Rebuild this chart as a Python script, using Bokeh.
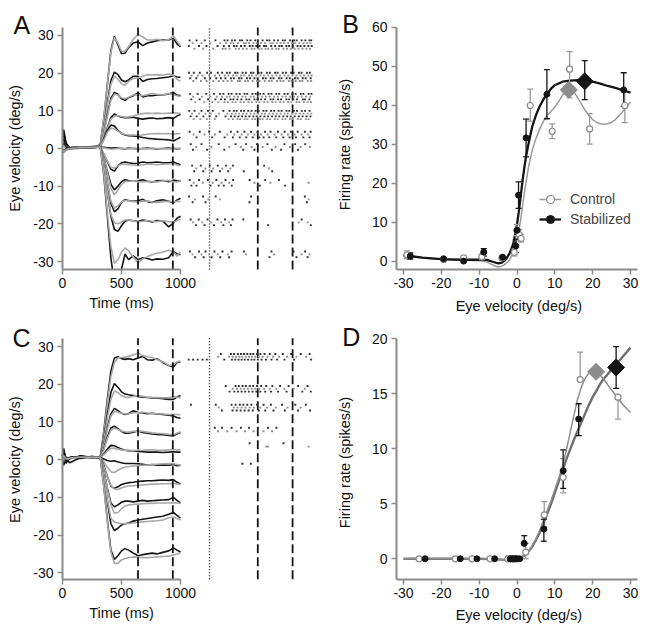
import math
import numpy as np
from bokeh.plotting import figure
from bokeh.models import Range1d, Label, Legend, LegendItem, FixedTicker, LinearAxis
from bokeh.layouts import column, row
from bokeh.embed import file_html
from bokeh.resources import INLINE

FONT = "Liberation Sans"
BLACK = "#151515"
GRAY = "#a8a8a8"
AXIS = "#8a8a8a"
TICK_FONT = "14px"
TITLE_FONT = "14.5px"

# ---------------- Panel A / C : eye velocity traces ----------------
T = [0, 10, 30, 60, 150, 250, 320, 350, 380, 410, 440, 470, 500, 530, 560,
     600, 640, 680, 720, 760, 800, 850, 900, 940, 970, 1000]

A_black = [
    [4, 5, 1.5, 0.2, 0.3, 0.4, 0.9, 8, 17, 26, 29.8, 27.5, 25.2, 25.3, 26.8, 28.0, 28.3, 27.3, 28.0, 28.3, 28.6, 28.8, 28.8, 29.3, 27.8, 27.0],
    [4, 4.5, 1, 0.2, 0.3, 0.4, 0.8, 5.5, 12, 18, 20.3, 19.6, 18.2, 17.7, 18.2, 19.2, 19.2, 17.8, 18.3, 18.5, 18.6, 18.8, 19.0, 19.3, 19.0, 18.9],
    [3.5, 4, 1, 0.2, 0.3, 0.4, 0.7, 4, 9, 13.3, 14.9, 14.4, 13.2, 12.8, 13.5, 14.0, 14.8, 13.7, 14.0, 14.0, 14.2, 14.2, 14.5, 14.8, 14.2, 14.0],
    [3, 3.5, 0.8, 0.2, 0.3, 0.4, 0.6, 2.5, 5.5, 8.2, 9.2, 8.6, 8.3, 8.2, 8.2, 8.3, 8.0, 7.8, 8.0, 8.1, 7.9, 8.0, 8.2, 8.0, 8.6, 9.0],
    [2, 2.5, 0.5, 0.2, 0.3, 0.4, 0.6, 2.5, 4.8, 6.2, 6.0, 4.8, 4.0, 3.6, 3.4, 3.3, 3.2, 2.9, 2.7, 2.6, 2.5, 2.4, 2.3, 2.0, 2.5, 3.0],
    [1.0, 1.5, 0.2, 0.1, 0.2, 0.3, 0.4, 0.3, 0.2, 0.1, 0.2, 0.1, 0.0, -0.1, 0.1, 0.0, -0.1, 0.0, 0.1, 0.0, -0.1, 0.0, 0.1, 0.0, -0.1, 0.0],
    [-0.3, -0.5, -0.2, 0.1, 0.2, 0.3, 0.4, -1.5, -3.5, -5.5, -6.0, -4.6, -3.8, -3.6, -3.8, -4.0, -3.9, -3.6, -3.8, -3.7, -3.6, -3.8, -3.8, -3.6, -4.0, -4.3],
    [-0.5, -0.8, -0.3, 0.0, 0.2, 0.3, 0.4, -2.5, -6, -9.5, -11, -10, -8.8, -8.3, -8.5, -8.7, -8.6, -8.3, -8.7, -8.9, -8.6, -8.5, -8.8, -8.4, -8.6, -8.7],
    [-0.6, -0.9, -0.2, 0.1, 0.2, 0.2, 0.4, -3.5, -9, -14.5, -16.8, -16, -14.3, -13.6, -13.8, -14.0, -13.9, -13.5, -14.1, -14.3, -13.9, -13.6, -14.0, -14.4, -13.7, -13.2],
    [-0.4, -0.7, -0.3, 0.0, 0.1, 0.3, 0.5, -4.5, -11.5, -18, -21.5, -22, -20.5, -19.3, -19.0, -19.2, -19.4, -19.0, -19.2, -19.5, -19.1, -19.3, -20.8, -19.8, -18.5, -18.0],
    [-0.5, -0.8, -0.2, 0.1, 0.2, 0.3, 0.4, -7, -18, -29, -36, -36, -32, -28, -29.5, -28.5, -29.5, -29.0, -29.2, -29.6, -29.3, -29.4, -29.0, -27.3, -28.0, -28.2],
]
A_gray = [
    [2, 3, 0.5, 0.2, 0.3, 0.5, 0.9, 8, 17, 25.5, 29.5, 28, 25.8, 25.8, 27, 29, 30.3, 29.6, 28.8, 28.8, 29, 28.6, 28.9, 29.8, 28.5, 27.3],
    [1.5, 2.5, 0.5, 0.2, 0.3, 0.5, 0.8, 5.5, 11.5, 17, 19.2, 18.4, 17.2, 16.8, 17.8, 18.6, 18.8, 19.2, 19.6, 19.5, 19.6, 19.5, 19.8, 19.4, 18.4, 17.8],
    [1.5, 2, 0.5, 0.2, 0.3, 0.5, 0.7, 4, 8.5, 12.8, 14.4, 14.2, 13.5, 13.2, 13.6, 14.2, 14.3, 14.0, 14.3, 14.6, 14.4, 14.2, 14.6, 14.3, 14.0, 13.8],
    [1.5, 2, 0.5, 0.2, 0.3, 0.5, 0.6, 2.5, 5.3, 7.8, 8.6, 8.7, 8.5, 8.3, 8.4, 8.6, 9.0, 9.3, 9.4, 9.3, 9.4, 9.3, 9.4, 9.5, 9.4, 9.3],
    [1, 1.5, 0.3, 0.2, 0.3, 0.4, 0.6, 2.2, 4.3, 5.4, 5.2, 4.6, 4.0, 3.7, 3.6, 3.6, 3.5, 3.6, 3.8, 3.9, 4.0, 3.9, 4.0, 3.8, 3.9, 4.0],
    [0.5, 0.8, -0.3, -0.2, 0.1, 0.2, 0.3, 0.2, 0.0, -0.2, -0.1, 0.0, 0.1, -0.1, 0.0, 0.1, 0.0, -0.1, 0.0, 0.1, 0.0, -0.1, 0.0, 0.1, 0.0, -0.1],
    [-0.5, -0.8, -0.3, 0.0, 0.2, 0.3, 0.4, -1.5, -3.3, -5.0, -5.2, -4.6, -4.2, -4.2, -4.3, -4.4, -4.5, -4.3, -4.2, -4.2, -4.3, -4.2, -4.1, -4.0, -4.4, -4.6],
    [-0.7, -1.0, -0.3, 0.0, 0.2, 0.3, 0.4, -2.5, -6.5, -10.5, -12.3, -11, -9.5, -8.8, -8.7, -8.6, -8.8, -8.9, -8.7, -8.8, -8.9, -8.6, -8.5, -8.8, -8.9, -8.7],
    [-0.5, -0.6, -0.4, 0.0, 0.2, 0.3, 0.4, -3.5, -9, -14, -15.8, -15.2, -14.2, -13.8, -13.9, -14.1, -14.2, -14.0, -13.9, -14.2, -14.3, -14.1, -14.0, -14.2, -14.0, -14.1],
    [-0.6, -0.9, -0.3, 0.1, 0.2, 0.3, 0.4, -4.5, -11.5, -17.5, -19.8, -20, -19.5, -19.0, -19.0, -19.2, -19.5, -19.3, -19.1, -19.3, -19.4, -19.2, -19.4, -19.5, -19.2, -18.8],
    [-0.5, -0.8, -0.3, 0.0, 0.2, 0.3, 0.4, -6.5, -17, -26, -30.5, -29.5, -27.5, -26.4, -27.2, -28.8, -30.4, -29.3, -28.7, -28.2, -27.8, -27.5, -27.0, -27.4, -28.6, -27.5],
]
C_black = [
    [1, 2, 0.5, 0.5, 0.8, 0.7, 0.6, 7.5, 16, 23.5, 27.0, 27.3, 26.8, 26.6, 26.8, 26.5, 27.0, 27.4, 26.5, 26.4, 26.8, 25.8, 25.0, 24.6, 25.8, 26.0],
    [1, 2.5, 0.3, 0.5, 0.8, 0.6, 0.6, 5.5, 12, 17.8, 20.2, 19.2, 18.0, 17.4, 17.2, 17.0, 16.8, 16.6, 16.5, 16.4, 16.4, 16.2, 16.0, 16.0, 16.6, 17.0],
    [0.8, 1.5, -0.5, 0.6, 0.3, 0.9, 0.5, 4, 8.5, 12.2, 13.6, 13.0, 12.3, 12.0, 12.2, 13.0, 12.5, 12.4, 12.2, 12.3, 12.1, 12.0, 11.8, 11.6, 11.2, 11.0],
    [1.2, 1.0, 0.3, 0.2, 1.0, 0.6, 0.7, 2.8, 6, 8.4, 8.9, 8.2, 7.5, 7.0, 7.0, 7.3, 7.6, 7.2, 7.0, 6.8, 6.7, 6.6, 6.4, 6.3, 6.8, 7.2],
    [1, 2, 0.3, 0.5, 0.8, 0.6, 0.6, 1.5, 2.8, 3.8, 3.7, 3.2, 2.8, 2.5, 2.4, 2.3, 2.2, 2.1, 2.0, 2.0, 2.0, 1.9, 2.0, 2.1, 2.0, 2.0],
    [1, 3, -1, 0.5, 0.8, 0.6, 0.6, 0.2, -0.2, -0.4, -0.3, -0.6, -0.8, -1.0, -1.0, -1.0, -1.1, -1.2, -1.4, -1.3, -1.5, -1.4, -1.5, -1.3, -1.6, -1.5],
    [0.5, 1, 0.2, 0.5, 0.8, 0.6, 0.6, -1.5, -4.5, -7.0, -7.6, -7.2, -6.6, -6.3, -6.1, -6.0, -5.8, -5.7, -5.6, -5.6, -5.5, -5.4, -5.5, -5.3, -6.0, -6.5],
    [0.3, -1.5, 0.2, -0.8, 0.5, 0.6, 0.6, -3, -7.5, -11.5, -12.5, -12.0, -11.3, -11.0, -11.0, -11.2, -11.0, -10.8, -11.0, -10.9, -10.8, -10.7, -10.6, -10.0, -10.8, -11.5],
    [0.5, 1, 0.2, 0.5, 0.8, 0.6, 0.6, -4.5, -11, -17, -18.8, -18.2, -17.3, -17.0, -16.8, -16.3, -16.0, -15.8, -15.6, -15.4, -15.2, -15.0, -14.5, -14.0, -14.8, -15.5],
    [0.5, 1, 0.2, 0.5, 0.8, 0.6, 0.6, -7, -16, -24, -26.5, -25.5, -24.2, -23.6, -24.0, -24.8, -25.5, -25.2, -25.0, -24.8, -25.0, -24.6, -24.2, -23.4, -24.0, -24.5],
]
C_gray = [
    [0.5, 1, 0.5, 0.4, 0.8, 0.7, 0.6, 7, 15, 22, 25.8, 27.0, 27.1, 27.2, 27.4, 27.8, 28.3, 27.6, 27.3, 27.1, 26.6, 26.0, 25.0, 25.2, 25.9, 26.2],
    [0.5, 1, 0.2, 0.4, 0.7, 0.6, 0.6, 5, 11, 16, 18.2, 17.8, 17.0, 16.6, 16.5, 16.8, 17.0, 16.8, 16.6, 16.5, 16.5, 16.4, 16.5, 16.7, 16.6, 16.4],
    [0.5, 1, 0.2, 0.4, 0.7, 0.6, 0.6, 3.8, 8, 11.5, 12.8, 12.6, 12.3, 12.1, 12.2, 12.4, 12.5, 12.6, 12.4, 12.3, 12.2, 12.1, 12.0, 12.0, 12.0, 11.9],
    [0.5, 1, 0.2, 0.4, 0.7, 0.6, 0.6, 2.6, 5.6, 7.8, 8.4, 8.0, 7.6, 7.4, 7.3, 7.5, 7.6, 7.5, 7.3, 7.1, 7.0, 6.9, 6.7, 6.6, 7.0, 7.4],
    [0.5, 1, 0.2, 0.4, 0.7, 0.6, 0.6, 1.3, 2.3, 3.0, 3.0, 2.8, 2.6, 2.5, 2.5, 2.4, 2.5, 2.5, 2.6, 2.6, 2.5, 2.5, 2.6, 2.7, 2.6, 2.6],
    [0.5, 1, 0.2, 0.4, 0.7, 0.6, 0.6, -0.5, -2.0, -3.2, -3.4, -2.8, -2.3, -2.0, -1.8, -1.7, -1.6, -1.5, -1.4, -1.3, -1.2, -1.1, -1.0, -1.1, -1.3, -1.5],
    [0.5, 1, 0.2, 0.4, 0.7, 0.6, 0.6, -1.8, -4.5, -6.8, -7.8, -7.9, -7.5, -7.2, -7.0, -6.9, -6.8, -6.7, -6.6, -6.5, -6.5, -6.4, -6.4, -6.3, -6.4, -6.6],
    [0.5, 1, 0.2, 0.4, 0.7, 0.6, 0.6, -3, -7.8, -12, -14.2, -14.0, -13.0, -12.3, -12.0, -11.9, -11.8, -11.7, -11.6, -11.6, -11.5, -11.5, -11.5, -11.4, -11.5, -11.6],
    [0.5, 1, 0.2, 0.4, 0.7, 0.6, 0.6, -4.5, -10.5, -15.5, -16.6, -16.8, -17.0, -17.0, -16.9, -16.8, -16.6, -16.5, -16.4, -16.3, -16.2, -16.0, -15.4, -15.2, -15.6, -16.0],
    [0.5, 1, 0.2, 0.4, 0.7, 0.6, 0.6, -7, -16.5, -24.5, -27.5, -27.5, -26.6, -26.2, -26.0, -25.8, -25.9, -26.0, -26.0, -25.9, -25.8, -25.7, -25.6, -25.3, -25.0, -24.8],
]

EVENT_MS = [640, 935]          # dashed analysis window
RASTER_SHIFT = 1015            # raster drawn to the right of the traces
RASTER_ONSET = 231             # dotted line in raster (ms)

# ---------------- rasters (spike times, ms) ----------------
rasterA_y = [27.6, 19.0, 13.4, 8.9, 3.7, 0.4, -5.3, -9.1, -13.5, -19.6, -28.1]
rA1 = [[62, 121, 190, 281, 358, 384, 421, 446, 489, 507, 551, 579, 618, 642, 681, 719, 738, 779, 812, 851, 871, 913, 948, 969, 1012, 1043, 1077, 1093],
       [88, 163, 236, 322, 371, 411, 433, 472, 521, 538, 566, 603, 631, 667, 702, 748, 766, 801, 833, 862, 897, 931, 958, 991, 1027, 1058, 1086],
       [55, 142, 205, 299, 352, 397, 438, 461, 497, 529, 572, 596, 627, 655, 693, 711, 754, 787, 823, 844, 882, 905, 939, 977, 1003, 1035, 1068, 1097],
       [103, 177, 262, 343, 366, 402, 452, 481, 514, 547, 588, 612, 649, 673, 706, 729, 762, 796, 818, 857, 888, 921, 952, 984, 1019, 1051, 1082]]
rA2 = [[57, 98, 149, 211, 244, 301, 338, 379, 403, 447, 468, 511, 539, 582, 603, 648, 671, 717, 742, 786, 808, 852, 879, 921, 944, 989, 1011, 1057, 1081],
       [79, 133, 172, 229, 277, 316, 359, 391, 428, 459, 497, 524, 566, 591, 627, 662, 693, 728, 761, 797, 828, 866, 897, 933, 967, 1002, 1032, 1069, 1096],
       [68, 119, 191, 237, 288, 327, 366, 412, 437, 481, 502, 548, 574, 611, 639, 684, 707, 749, 773, 819, 841, 884, 911, 955, 978, 1021, 1046, 1088],
       [93, 158, 206, 263, 309, 348, 384, 419, 471, 489, 533, 557, 596, 633, 655, 699, 736, 758, 802, 833, 858, 903, 926, 961, 996, 1017, 1063, 1092]]
rA3 = [[64, 131, 203, 268, 319, 349, 392, 418, 459, 487, 528, 551, 594, 622, 661, 689, 731, 756, 797, 822, 866, 893, 932, 961, 1004, 1027, 1071, 1095],
       [92, 166, 238, 293, 336, 377, 401, 441, 473, 509, 537, 579, 606, 644, 677, 709, 741, 779, 809, 848, 877, 913, 947, 979, 1013, 1048, 1083],
       [76, 147, 219, 281, 328, 361, 409, 433, 467, 501, 544, 568, 612, 637, 669, 702, 748, 771, 812, 837, 883, 906, 941, 972, 1022, 1039, 1077],
       [111, 187, 254, 306, 357, 386, 426, 452, 493, 521, 561, 589, 628, 653, 694, 723, 763, 791, 829, 859, 897, 924, 968, 992, 1031, 1062, 1091]]
rA4 = [[59, 104, 163, 218, 259, 348, 401, 437, 461, 498, 523, 559, 587, 622, 648, 688, 713, 752, 779, 816, 842, 883, 907, 946, 972, 1013, 1041, 1079],
       [82, 141, 196, 241, 312, 382, 421, 452, 483, 517, 546, 579, 611, 639, 674, 702, 737, 768, 801, 833, 867, 894, 931, 963, 996, 1027, 1063, 1094],
       [71, 122, 179, 232, 288, 367, 413, 444, 476, 507, 538, 569, 603, 631, 662, 696, 727, 761, 792, 823, 857, 889, 919, 952, 987, 1019, 1053, 1086],
       [97, 153, 208, 276, 393, 429, 469, 491, 529, 553, 594, 618, 657, 681, 719, 744, 784, 809, 848, 874, 912, 938, 979, 1004, 1047, 1071]]
rA5 = [[63, 148, 227, 318, 412, 468, 527, 583, 638, 702, 748, 811, 867, 921, 978, 1039, 1088],
       [96, 188, 276, 381, 441, 503, 556, 611, 667, 724, 783, 842, 896, 952, 1011, 1067],
       [121, 254, 359, 429, 487, 542, 597, 652, 689, 737, 797, 856, 909, 964, 1026, 1079]]
rA6 = [[72, 163, 309, 452, 541, 633, 722, 866, 957, 1042],
       [118, 247, 398, 496, 588, 681, 791, 912, 1003, 1081],
       [91, 211, 356, 517, 612, 759, 838, 981]]
rA7 = [[84, 157, 233, 301, 372, 429, 694],
       [119, 196, 262, 338, 407, 733],
       [101, 178, 248, 319, 389, 521, 762]]
rA8 = [[63, 142, 217, 289, 366, 431, 571, 703, 819],
       [96, 174, 258, 333, 398, 612, 747, 1071],
       [78, 121, 239, 309, 352, 419, 658, 872]]
rA9 = [[58, 176, 283, 583, 1039],
       [107, 221, 318, 1071],
       [88, 197, 569, 1056]]
rA10 = [[71, 139, 214, 298, 362, 426, 517, 1012],
        [92, 171, 246, 331, 397, 987, 1063],
        [116, 189, 269, 349, 412, 728, 1089]]
rA11 = [[64, 142, 197, 273, 341, 418, 523, 756, 943, 1041],
        [87, 163, 229, 301, 386, 541, 778, 1012, 1078],
        [109, 181, 248, 322, 397, 739, 968, 1062]]
rasterA = [rA1, rA2, rA3, rA4, rA5, rA6, rA7, rA8, rA9, rA10, rA11]

rasterC_y = [27.3, 18.8, 13.8, 8.0, 3.9, -1.1]
rC1 = [[327, 412, 438, 471, 497, 523, 551, 578, 602, 633, 662, 697, 741, 788, 852, 923, 1004, 1079],
       [303, 398, 427, 456, 484, 509, 538, 566, 591, 619, 648, 681, 722, 769, 821, 889, 967, 1051],
       [55, 92, 131, 172, 208, 356, 421, 449, 477, 503, 529, 558, 587, 611, 641, 672, 709, 756, 803, 866, 948, 1092]]
rC2 = [[368, 452, 479, 511, 539, 572, 601, 634, 668, 712, 763, 829, 901, 981, 1062],
       [427, 463, 494, 526, 557, 588, 619, 651, 693, 741, 797, 866, 944, 1038],
       [401, 441, 472, 503, 533, 564, 596, 627, 661, 703, 752, 812, 884, 1017, 1089]]
rC3 = [[73, 284, 418, 452, 488, 517, 551, 586, 634, 689, 751, 846, 958, 1047],
       [309, 437, 469, 503, 536, 571, 607, 662, 718, 792, 891, 1004],
       [336, 426, 461, 494, 528, 562, 597, 648, 703, 773, 869, 981, 1083]]
rC4 = [[276, 337, 418, 497, 566, 641, 726, 798],
       [303, 381, 461, 532, 604, 688, 761]]
rC5 = [[571, 858],
       [712, 726, 1072]]
rC6 = [[509, 581]]
rasterC = [rC1, rC2, rC3, rC4, rC5, rC6]

# ---------------- Panel B : tuning curves ----------------
B_fit_stab_x = [-30, -25, -20, -15, -10, -8, -6, -5, -4, -3, -2, -1, 0, 0.5, 1, 1.5, 2, 2.5, 3, 4,
                5, 6, 7, 8, 9, 10, 12, 14, 16, 18, 20, 22, 24, 26, 28, 30]
B_fit_stab_y = [1.6, 1.0, 0.6, 0.45, 0.5, 0.4, -0.2, -0.5, -0.3, 0.5, 2.0, 4.5, 9.5, 13, 17, 21, 24.5, 27.5, 30, 34.5,
                37.5, 39.8, 41.6, 43, 44.3, 45.2, 46.1, 46.4, 46.5, 46.4, 46.1, 45.6, 45.0, 44.5, 43.9, 43.3]
B_fit_ctrl_x = [-30, -25, -20, -15, -10, -8, -7, -6, -5, -4, -3, -2, -1, 0, 0.5, 1, 1.5, 2, 2.5, 3,
                4, 5, 6, 7, 8, 9, 10, 11, 12, 13, 14, 15, 16, 17, 18, 19, 20, 21, 22, 23,
                24, 25, 26, 27, 28, 29, 30]
B_fit_ctrl_y = [1.5, 0.9, 0.5, 0.35, 0.2, -0.1, -0.6, -1.1, -1.4, -1.2, -0.6, 0.4, 2.2, 5.5, 8, 11, 14.5, 18, 21, 24,
                28.5, 31.5, 34, 36, 37.5, 38.5, 39.6, 41, 42.6, 43.8, 44.2, 43.6, 42.1, 40.4, 38.8, 37.4, 36.4, 35.7, 35.3, 35.2,
                35.3, 35.7, 36.4, 37.4, 38.5, 39.7, 40.9]
B_ctrl_x = [-29.1, -19.4, -14.1, -9.3, -4.0, -0.7, 0.0, 0.6, 1.1, 3.5, 9.3, 13.9, 19.2, 28.5]
B_ctrl_y = [1.7, 0.5, 0.9, 1.2, 0.9, 2.3, 8.0, 6.9, 5.9, 40.0, 33.4, 49.3, 34.0, 40.0]
B_ctrl_lo = [0.7, 0.5, 0.9, 0.5, 0.9, 1.4, 6.6, 5.6, 5.0, 36.0, 31.5, 42.0, 30.1, 35.6]
B_ctrl_hi = [2.7, 0.5, 0.9, 1.9, 0.9, 3.2, 9.5, 8.2, 6.9, 44.2, 35.3, 53.8, 37.9, 43.9]
B_stab_x = [-28.2, -19.4, -14.1, -8.8, -3.8, -0.3, 0.0, 0.4, 2.4, 7.9, 28.2]
B_stab_y = [1.4, 0.7, 0.1, 2.4, 1.1, 4.0, 8.0, 17.0, 31.7, 42.9, 44.0]
B_stab_lo = [0.6, 0.7, 0.1, 1.4, 1.1, 2.3, 8.0, 13.6, 26.8, 36.6, 39.8]
B_stab_hi = [2.2, 0.7, 0.1, 3.3, 1.1, 5.7, 8.0, 20.4, 36.5, 49.2, 48.4]
B_peak_x = [13.7, 17.9]          # control, stabilized
B_peak_y = [44.0, 46.2]
B_peak_lo = [44.0, 41.5]
B_peak_hi = [44.0, 51.5]

# ---------------- Panel D ----------------
D_fit_x = [-30, -20, -10, -5, -3, -2, -1, 0, 1, 2, 3, 4, 5, 6, 7, 8, 9, 10, 11, 12,
           13, 14, 15, 16, 17, 18, 19, 20, 21, 22, 23, 24, 26, 28, 30]
D_fit_ctrl_y = [0, 0, 0, -0.05, -0.1, -0.12, -0.08, 0, 0.12, 0.3, 0.7, 1.2, 1.8, 2.6, 3.5, 4.4, 5.3, 6.3, 7.3, 8.4,
                9.8, 11.4, 13.0, 14.5, 15.6, 16.4, 16.9, 17.05, 17.0, 16.7, 16.3, 15.8, 14.9, 14.0, 13.3]
D_fit_stab_y = [0, 0, 0, -0.05, -0.1, -0.12, -0.08, 0, 0.12, 0.3, 0.65, 1.1, 1.7, 2.4, 3.2, 4.1, 5.0, 6.0, 7.0, 8.0,
                9.0, 9.9, 10.8, 11.6, 12.4, 13.2, 14.0, 14.7, 15.3, 15.9, 16.4, 16.8, 17.6, 18.4, 19.2]
D_ctrl_x = [-25.9, -16.3, -11.9, -7.1, -2.4, -1.6, -0.9, -0.3, 2.3, 7.2, 12.2, 16.7, 26.7]
D_ctrl_y = [0, 0, 0, 0, 0, 0, 0, 0, 0.6, 4.0, 7.4, 16.3, 14.7]
D_ctrl_lo = [0, 0, 0, 0, 0, 0, 0, 0, 0.0, 2.9, 6.0, 16.3, 12.7]
D_ctrl_hi = [0, 0, 0, 0, 0, 0, 0, 0, 1.4, 5.2, 9.1, 18.8, 14.7]
D_stab_x = [-24.3, -15.0, -10.6, -5.9, -1.8, -1.2, -0.6, 0.0, 0.7, 1.9, 7.1, 12.2, 16.3]
D_stab_y = [0, 0, 0, 0, 0, 0, 0, 0, 0, 1.4, 2.7, 8.0, 12.7]
D_stab_lo = [0, 0, 0, 0, 0, 0, 0, 0, 0, 1.4, 1.6, 6.4, 11.2]
D_stab_hi = [0, 0, 0, 0, 0, 0, 0, 0, 0, 2.1, 3.6, 9.9, 14.1]
D_peak_x = [20.9, 26.2]
D_peak_y = [17.0, 17.4]
D_peak_lo = [17.0, 15.5]
D_peak_hi = [17.0, 19.3]

TICKS_T = [0, 500, 1000]
TICKS_V = [-30, -20, -10, 0, 10, 20, 30]
TICKS_B = [0, 10, 20, 30, 40, 50, 60]
TICKS_D = [0, 5, 10, 15, 20]


def style_axis(ax):
    ax.axis_line_color = AXIS
    ax.axis_line_width = 2
    ax.major_tick_line_color = AXIS
    ax.major_tick_line_width = 1.5
    ax.major_tick_out = 5
    ax.major_tick_in = 0
    ax.minor_tick_line_color = None
    ax.major_label_text_font = FONT
    ax.major_label_text_font_size = TICK_FONT
    ax.major_label_text_color = "#111111"
    ax.major_label_standoff = 4


def make_fig(w, h, xr, yr, x_loc, y_loc, xb, yb, xt, yt):
    # the frame fills the whole canvas; axes sit at fixed data locations
    p = figure(width=w, height=h, x_range=Range1d(*xr), y_range=Range1d(*yr),
               x_axis_location=None, y_axis_location=None,
               min_border=0, min_border_left=0, min_border_right=0,
               min_border_top=0, min_border_bottom=0,
               output_backend="svg", toolbar_location=None)
    p.grid.visible = False
    p.outline_line_color = None
    xax = LinearAxis(fixed_location=x_loc, bounds=xb, ticker=FixedTicker(ticks=xt),
                     major_label_overrides={t: str(t) for t in xt})
    yax = LinearAxis(fixed_location=y_loc, bounds=yb, ticker=FixedTicker(ticks=yt),
                     major_label_overrides={t: str(t) for t in yt})
    style_axis(xax)
    style_axis(yax)
    p.add_layout(xax, "below")
    p.add_layout(yax, "left")
    return p


def add_text(p, x, y, text, size=TITLE_FONT, angle=0.0, align="center", baseline="middle"):
    p.add_layout(Label(x=x, y=y, text=text, text_font=FONT, text_font_size=size,
                       text_color="#111111", angle=angle, text_align=align,
                       text_baseline=baseline))


def clip_series(xs, ys, lo, hi):
    ox, oy = [], []
    for i, (x, y) in enumerate(zip(xs, ys)):
        inside = lo <= y <= hi
        if i > 0:
            xp, yp = xs[i - 1], ys[i - 1]
            pin = lo <= yp <= hi
            if pin != inside:
                b = lo if (y < lo or yp < lo) else hi
                f = (b - yp) / (y - yp)
                ox.append(xp + f * (x - xp))
                oy.append(b)
                if pin:
                    ox.append(math.nan)
                    oy.append(math.nan)
        if inside:
            ox.append(x)
            oy.append(y)
    return ox, oy


def trace_panel(p, blacks, grays, raster_rows, raster_y, ylo, yhi):
    for yb, yg in zip(blacks, grays):
        xb_, yb_ = clip_series(T, yb, ylo, yhi)
        xg_, yg_ = clip_series(T, yg, ylo, yhi)
        p.line(xb_, yb_, line_color=BLACK, line_width=1.6)
        p.line(xg_, yg_, line_color=GRAY, line_width=1.6)
    ev = EVENT_MS + [e + RASTER_SHIFT for e in EVENT_MS]
    p.segment(x0=ev, y0=[ylo] * len(ev), x1=ev, y1=[yhi] * len(ev),
              line_color=BLACK, line_dash="9 4", line_width=1.8)
    on = [RASTER_ONSET + RASTER_SHIFT]
    p.segment(x0=on, y0=[ylo], x1=on, y1=[yhi], line_color=BLACK,
              line_dash="1 2", line_width=1.4)
    offsets = {1: [0.0], 2: [0.45, -0.45], 3: [0.75, 0.0, -0.75], 4: [1.1, 0.37, -0.37, -1.1]}
    bx, by, gx, gy = [], [], [], []
    for yc, rows in zip(raster_y, raster_rows):
        offs = offsets[len(rows)]
        for k, (dy, times) in enumerate(zip(offs, rows)):
            xs = [t + RASTER_SHIFT for t in times]
            ys = [yc + dy] * len(times)
            if k % 2 == 0:
                bx += xs
                by += ys
            else:
                gx += xs
                gy += ys
    p.scatter(bx, by, marker="square", size=1.9, fill_color="#2e2e2e", line_color=None)
    p.scatter(gx, gy, marker="square", size=1.9, fill_color="#8e8e8e", line_color=None)


def errbars(p, xs, lo, hi, color):
    keep = [(x, a, b) for x, a, b in zip(xs, lo, hi) if b > a]
    sx = [k[0] for k in keep]
    s_lo = [k[1] for k in keep]
    s_hi = [k[2] for k in keep]
    p.segment(x0=sx, y0=s_lo, x1=sx, y1=s_hi, line_color=color, line_width=1.3)
    p.scatter(sx + sx, s_lo + s_hi, marker="dash", size=6, line_color=color, line_width=1.3)


# ---------------- panel A  (canvas 330 x 318) ----------------
A_LO, A_HI = -32.12, 32.12
pA = make_fig(330, 318, (-525.4, 2271.2), (-45.13, 39.29), A_LO, 0, (0, 1000), (A_LO, A_HI),
              TICKS_T, TICKS_V)
trace_panel(pA, A_black, A_gray, rasterA, rasterA_y, A_LO, A_HI)
add_text(pA, -405, 0, "Eye velocity (deg/s)", angle=math.pi / 2)
add_text(pA, 500, -41.0, "Time (ms)")
add_text(pA, -415.3, 32.9, "A", size="25px", align="left", baseline="alphabetic")

# ---------------- panel C  (canvas 330 x 310) ----------------
C_LO, C_HI = -31.73, 32.2
pC = make_fig(330, 310, (-525.4, 2271.2), (-44.79, 37.45), C_LO, 0, (0, 1000), (C_LO, C_HI),
              TICKS_T, TICKS_V)
trace_panel(pC, C_black, C_gray, rasterC, rasterC_y, C_LO, C_HI)
add_text(pC, -405, 0, "Eye velocity (deg/s)", angle=math.pi / 2)
add_text(pC, 500, -40.6, "Time (ms)")
add_text(pC, -423.7, 32.4, "C", size="25px", align="left", baseline="alphabetic")

# ---------------- panel B  (canvas 319 x 318) ----------------
pB = make_fig(319, 318, (-49.30, 35.02), (-14.62, 66.92), -2.05, -31.85, (-31.85, 31.9), (-2.05, 60),
              TICKS_V, TICKS_B)
l_ctrl = pB.line(B_fit_ctrl_x, B_fit_ctrl_y, line_color="#9a9a9a", line_width=1.5)
l_stab = pB.line(B_fit_stab_x, B_fit_stab_y, line_color=BLACK, line_width=2.3)
errbars(pB, B_ctrl_x, B_ctrl_lo, B_ctrl_hi, "#9a9a9a")
errbars(pB, B_stab_x, B_stab_lo, B_stab_hi, BLACK)
errbars(pB, B_peak_x, B_peak_lo, B_peak_hi, BLACK)
m_ctrl = pB.scatter(B_ctrl_x, B_ctrl_y, marker="circle", size=6, fill_color="white",
                    line_color="#8a8a8a", line_width=1.2)
m_stab = pB.scatter(B_stab_x, B_stab_y, marker="circle", size=6, fill_color=BLACK,
                    line_color=BLACK)
pB.scatter(B_peak_x, B_peak_y, marker="square", angle=math.pi / 4, size=12,
           fill_color=["#8c8c8c", BLACK], line_color=["#8c8c8c", BLACK])
legend = Legend(items=[LegendItem(label="Control", renderers=[l_ctrl, m_ctrl]),
                       LegendItem(label="Stabilized", renderers=[l_stab, m_stab])],
                location=(209, 89), padding=0, margin=0, spacing=0,
                glyph_width=22, glyph_height=20, label_height=20, label_standoff=9,
                label_text_font=FONT, label_text_font_size="14px",
                border_line_color=None, background_fill_alpha=0)
pB.add_layout(legend)
add_text(pB, -45.5, 30, "Firing rate (spikes/s)", angle=math.pi / 2)
add_text(pB, 0.5, -11.3, "Eye velocity (deg/s)")
add_text(pB, -46.2, 60.9, "B", size="25px", align="left", baseline="alphabetic")

# ---------------- panel D  (canvas 319 x 310) ----------------
pD = make_fig(319, 310, (-49.30, 35.02), (-6.34, 21.85), -1.88, -31.85, (-31.85, 31.9), (-1.88, 20),
              TICKS_V, TICKS_D)
pD.line(D_fit_x, D_fit_stab_y, line_color="#6f6f6f", line_width=2.4)
pD.line(D_fit_x, D_fit_ctrl_y, line_color="#8e8e8e", line_width=1.5)
errbars(pD, D_ctrl_x, D_ctrl_lo, D_ctrl_hi, "#9a9a9a")
errbars(pD, D_stab_x, D_stab_lo, D_stab_hi, BLACK)
errbars(pD, D_peak_x, D_peak_lo, D_peak_hi, BLACK)
pD.scatter(D_ctrl_x, D_ctrl_y, marker="circle", size=6, fill_color="white",
           line_color="#8a8a8a", line_width=1.2)
pD.scatter(D_stab_x, D_stab_y, marker="circle", size=6, fill_color=BLACK, line_color=BLACK)
pD.scatter(D_peak_x, D_peak_y, marker="square", angle=math.pi / 4, size=12,
           fill_color=["#8c8c8c", BLACK], line_color=["#8c8c8c", BLACK])
add_text(pD, -45.5, 8.75, "Firing rate (spikes/s)", angle=math.pi / 2)
add_text(pD, 0.5, -5.15, "Eye velocity (deg/s)")
add_text(pD, -46.2, 20.2, "D", size="25px", align="left", baseline="alphabetic")

layout = column(row(pA, pB), row(pC, pD))
open("out.html", "w").write(file_html(layout, INLINE))
